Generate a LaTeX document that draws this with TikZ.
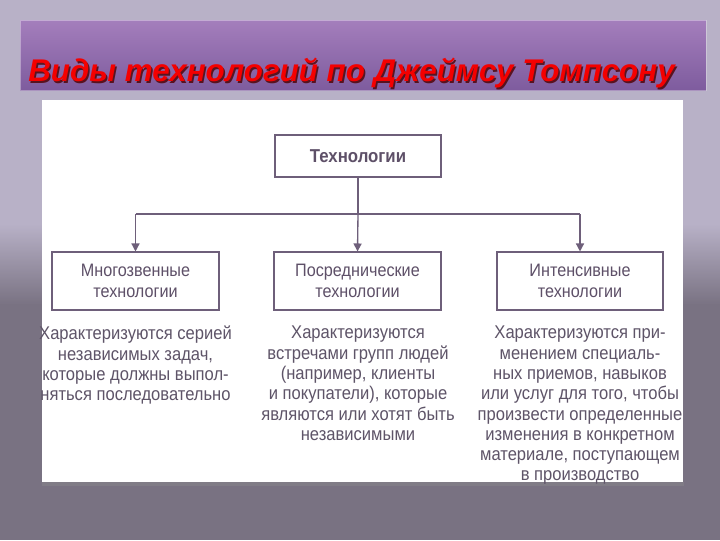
\documentclass[tikz,border=0pt]{standalone}
\usepackage{fontspec}
\setmainfont{Liberation Sans}
\newfontfamily\narrowfont[FakeStretch=0.9]{Liberation Sans}
\newfontfamily\titlefont{Liberation Sans}
\usetikzlibrary{arrows.meta}
\definecolor{bgtop}{HTML}{B8B1C7}
\definecolor{bgbot}{HTML}{797282}
\definecolor{bantop}{HTML}{A47EBC}
\definecolor{banbot}{HTML}{7E5C9E}
\definecolor{boxline}{HTML}{6E5F7A}
\definecolor{boxtext}{HTML}{5E5068}
\definecolor{desctext}{HTML}{5E5468}
\definecolor{titlered}{HTML}{F40000}
\tikzset{
  techbox/.style={draw=boxline, line width=1.3pt, fill=white, minimum width=125pt, minimum height=43pt, inner sep=0pt, align=center, text=boxtext, font=\narrowfont\fontsize{13.5}{15.5}\selectfont},
  topbox/.style={techbox, minimum height=31.5pt, font=\narrowfont\bfseries\fontsize{14}{16}\selectfont},
  desc/.style={align=center, text=desctext, inner sep=0pt, anchor=north, font=\narrowfont\fontsize{13.8}{15.2}\selectfont},
  conn/.style={draw=boxline, line width=1pt},
  arr/.style={conn, -{Triangle[length=6pt,width=6pt]}},
  titletext/.style={anchor=base west, inner sep=0pt, font=\titlefont\bfseries\itshape\fontsize{23.5}{26}\selectfont}
}
\begin{document}
\begin{tikzpicture}[x=0.75pt,y=-0.75pt]
\useasboundingbox (0,0) rectangle (720,540);
% background
\fill[bgtop] (0,0) rectangle (720,225);
\shade[top color=bgtop, bottom color=bgbot] (0,224) rectangle (720,305);
\fill[bgbot] (0,304) rectangle (720,540);
% banner
\shade[top color=bantop, bottom color=banbot] (20,20) rectangle (706,90);
\draw[white, opacity=0.35, line width=0.6pt] (20,20) rectangle (706,90);
\node[titletext, text=black!70!red, opacity=0.8] (shadow) at (29.5,83)
  {Виды технологий по Джеймсу Томпсону};
\node[titletext, text=titlered] (title) at (28,81.5)
  {Виды технологий по Джеймсу Томпсону};
% white panel
\fill[black!45, opacity=0.4] (42,482) rectangle (684,486);
\fill[white] (42,100) rectangle (683,482);
% boxes
\node[topbox] (tech) at (358,156) {Технологии};
\node[techbox] (multi) at (135.5,281) {Многозвенные\\технологии};
\node[techbox] (medi) at (357.5,281) {Посреднические\\технологии};
\node[techbox] (inten) at (580,281) {Интенсивные\\технологии};
% connectors
\coordinate (split) at (358,214);
\coordinate (hl) at (135.5,214);
\coordinate (hr) at (580,214);
\draw[conn] (tech.south) -- (split);
\draw[conn] (hl) -- (hr);
\draw[arr] (hl) -- (multi.north);
\draw[arr] (split) -- (medi.north);
\draw[arr] (hr) -- (inten.north);
% descriptions
\node[desc] (d1) at (135.5,326) {Характеризуются серией\\независимых задач,\\которые должны выпол-\\няться последовательно};
\node[desc] (d2) at (358,326) {Характеризуются\\встречами групп людей\\(например, клиенты\\и покупатели), которые\\являются или хотят быть\\независимыми};
\node[desc] (d3) at (580,326) {Характеризуются при-\\менением специаль-\\ных приемов, навыков\\или услуг для того, чтобы\\произвести определенные\\изменения в конкретном\\материале, поступающем\\в производство};
\end{tikzpicture}
\end{document}
